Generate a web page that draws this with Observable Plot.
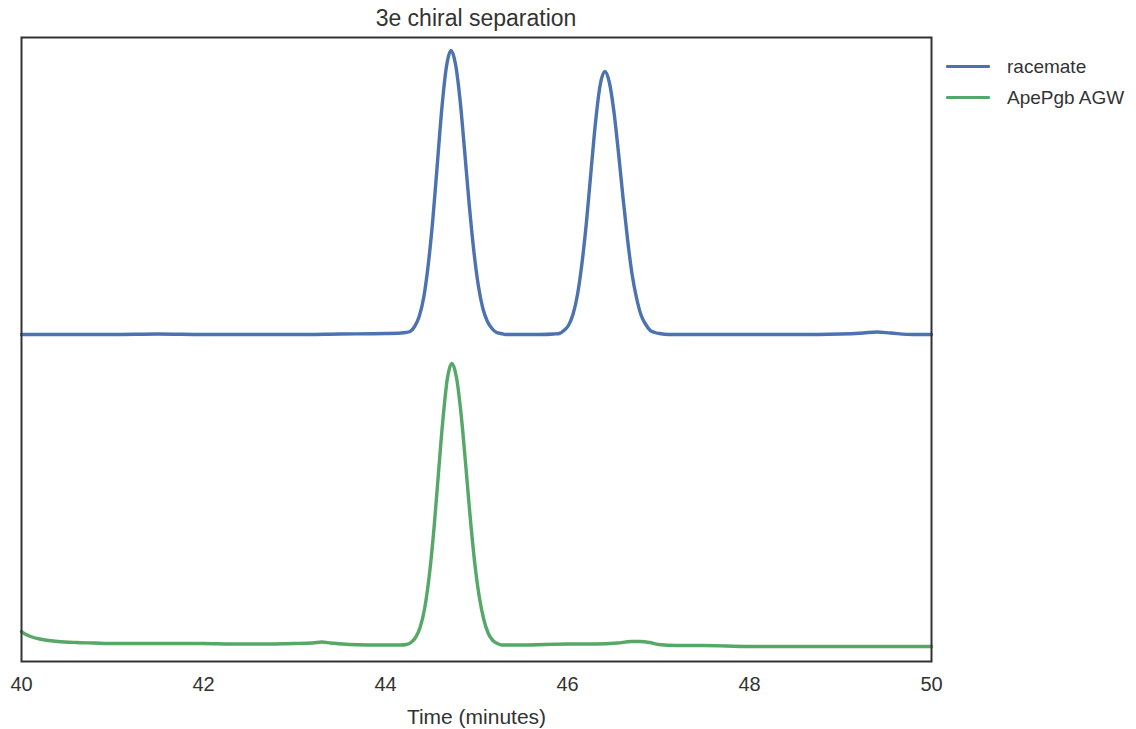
<!DOCTYPE html>
<html>
<head>
<meta charset="utf-8">
<script src="https://cdn.jsdelivr.net/npm/d3@7"></script>
<script src="https://cdn.jsdelivr.net/npm/@observablehq/plot@0.6"></script>
<style>
  html, body { margin: 0; padding: 0; background: #fff; }
  #wrap { position: relative; width: 1136px; height: 729px; font-family: "Liberation Sans", Arial, sans-serif; color: #333; }
  #title { position: absolute; left: 21px; width: 910px; top: 5px; text-align: center; font-size: 23px; color: #333; }
  #legend { position: absolute; left: 946px; top: 51px; font-size: 19px; color: #333; }
  .item { display: flex; align-items: center; height: 31px; }
  .sw { width: 44px; height: 3.4px; margin-right: 17px; border-radius: 1px; }
  svg { position: absolute; left: 0; top: 0; overflow: visible; }
</style>
</head>
<body>
<div id="wrap">
  <div id="title">3e chiral separation</div>
  <div id="legend"></div>
</div>
<script>
// Series names and colours
const seriesNames = ["racemate", "ApePgb AGW"];
const seriesColors = ["#4c72b0", "#55a868"];

// racemate trace: time (minutes) and signal (arbitrary units)
const racemateTime = [
  40.0, 40.5, 41.0, 41.5, 42.0, 42.5, 43.0, 43.5, 44.0, 44.17, 44.22, 44.27, 44.32, 44.37, 44.42, 44.47, 44.52, 44.57, 44.62, 44.67, 44.72,
  44.77, 44.82, 44.87, 44.92, 44.97, 45.02, 45.07, 45.12, 45.17, 45.22, 45.27, 45.32, 45.5, 45.7, 45.85, 45.91, 45.96, 46.01, 46.06, 46.11, 46.16, 46.21, 46.26, 46.31, 46.36, 46.41,
  46.46, 46.51, 46.56, 46.61, 46.66, 46.71, 46.76, 46.81, 46.86, 46.91, 46.96, 47.01, 47.11, 47.3, 47.6, 48.0, 48.5, 49.0, 49.25, 49.4, 49.55, 49.8, 50.0
];
const racemateSignal = [
  327, 327, 327, 327.5, 327, 327, 327, 327.5, 328, 328.5, 329, 330, 335, 345, 364, 397, 442, 498, 554, 595, 611,
  597, 561, 510, 457, 411, 376, 353, 340, 333, 329, 328, 327, 327, 327, 327.5, 328, 331, 336, 347, 367, 399, 441, 492, 541, 577, 590,
  579, 550, 509, 464, 422, 387, 363, 346, 337, 331, 329, 328, 327, 327, 327, 327, 327, 327.5, 328.5, 329.5, 328.5, 327, 327
];

// ApePgb AGW trace
const agwTime = [
  40.0, 40.05, 40.1, 40.2, 40.3, 40.4, 40.6, 40.8, 41.0, 41.5, 42.0, 42.3, 42.6, 43.0, 43.2, 43.3, 43.4, 43.6, 44.0, 44.17, 44.23, 44.28, 44.33, 44.38, 44.43, 44.48, 44.53, 44.58, 44.63, 44.68, 44.73,
  44.78, 44.83, 44.88, 44.93, 44.98, 45.03, 45.08, 45.13, 45.18, 45.23, 45.28, 45.5, 46.0, 46.3, 46.55, 46.7, 46.8, 46.9, 47.0, 47.2, 47.5, 48.0, 48.5, 49.0, 49.5, 50.0
];
const agwSignal = [
  30, 27, 25, 22.5, 21, 20, 19, 18.5, 18, 18, 18, 17.5, 17.5, 18, 18.5, 19.5, 18.5, 17, 16.5, 16.5, 17, 19, 24, 34, 53, 85, 130, 186, 241, 283, 298,
  284, 248, 198, 145, 99, 65, 42, 28, 21, 18, 16.5, 16.5, 17.5, 17.5, 18.5, 20, 20, 19, 17, 16, 16, 15, 15, 15, 15, 15
];

const xTicks = [40, 42, 44, 46, 48, 50];

const data = [
  ...racemateTime.map((t, i) => ({t, v: racemateSignal[i], s: seriesNames[0]})),
  ...agwTime.map((t, i) => ({t, v: agwSignal[i], s: seriesNames[1]}))
];

const chart = Plot.plot({
  width: 1136,
  height: 729,
  marginLeft: 21,
  marginRight: 205,
  marginTop: 37,
  marginBottom: 68,
  style: {fontFamily: "'Liberation Sans', Arial, sans-serif", fontSize: "20px", color: "#333", background: "transparent"},
  x: {domain: [40, 50], ticks: xTicks, tickSize: 0, tickPadding: 15, label: null},
  y: {domain: [0, 624], axis: null},
  color: {domain: seriesNames, range: seriesColors},
  marks: [
    Plot.axisX({ticks: xTicks, tickSize: 0, tickPadding: 15, fontSize: 20, label: "Time (minutes)", labelAnchor: "center", labelArrow: "none", labelOffset: 62}),
    Plot.lineY(data, {x: "t", y: "v", z: "s", stroke: "s", strokeWidth: 3.4, curve: "monotone-x"}),
    Plot.frame({stroke: "#333", strokeWidth: 2})
  ]
});
document.getElementById("wrap").appendChild(chart);
chart.querySelectorAll("[aria-label='x-axis label'] text").forEach(t => t.setAttribute("font-size", "21"));

const legend = document.getElementById("legend");
seriesNames.forEach((n, i) => {
  const d = document.createElement("div");
  d.className = "item";
  d.innerHTML = `<div class="sw" style="background:${seriesColors[i]}"></div><span>${n}</span>`;
  legend.appendChild(d);
});
</script>
</body>
</html>
